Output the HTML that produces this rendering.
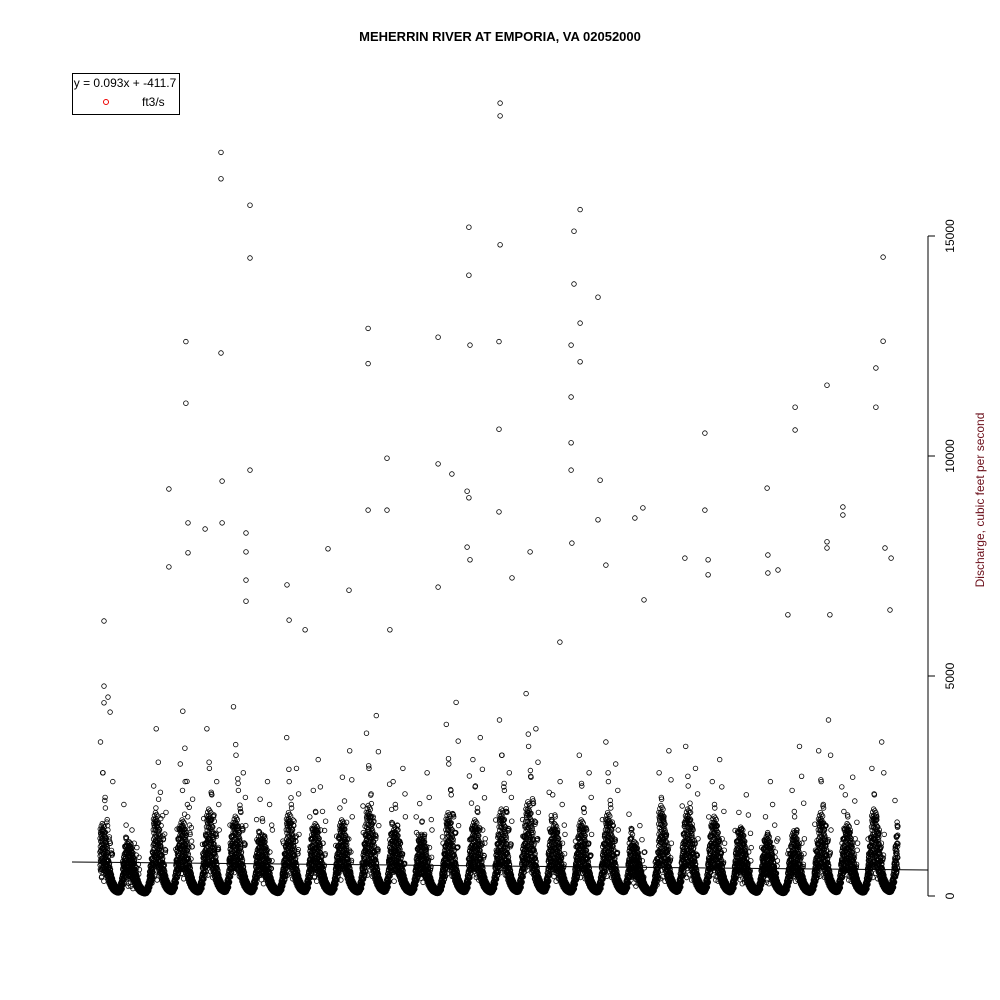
<!DOCTYPE html>
<html><head><meta charset="utf-8"><style>
body{margin:0;background:#fff;}
svg{display:block;font-family:"Liberation Sans",Arial,sans-serif;}
</style></head><body>
<svg id="chart" width="1000" height="1000">
<rect width="1000" height="1000" fill="#fff"/>
<text x="500" y="41" text-anchor="middle" font-size="13" font-weight="bold">MEHERRIN RIVER AT EMPORIA, VA 02052000</text>
<g id="points"></g>
<line x1="72" y1="862" x2="928" y2="870" stroke="#000" stroke-width="1"/>
<g id="yaxis"></g>
<text transform="translate(984,500) rotate(-90)" text-anchor="middle" font-size="12" fill="#6b0f1a">Discharge, cubic feet per second</text>
<g>
<rect x="72.5" y="73.5" width="107" height="41" fill="#fff" stroke="#000"/>
<text x="125" y="87" text-anchor="middle" font-size="12">y = 0.093x + -411.7</text>
<circle cx="106" cy="102" r="2.5" fill="none" stroke="#e00"/>
<text x="142" y="106" font-size="12">ft3/s</text>
</g>
</svg>
<script>
const yTicks=[0,5000,10000,15000];
const monthProfile=[1.0,1.1,1.05,0.85,0.55,0.35,0.22,0.16,0.12,0.14,0.3,0.7];
const dailyWiggle=[1.0,0.7,1.3,0.9,1.5,0.6,1.1,0.8,1.4,1.0,0.55,1.2,0.75,1.35];
const yearScale=[1000,750,1150,1050,1200,1100,850,1150,1000,1050,1250,950,850,1150,1050,1200,1300,1000,1050,1150,750,1250,1200,1100,950,850,900,1150,1000,1200];
const springFlows=[
[3500,2800,2000,1500,1200,2600],[1200,900,1500,800,1100,600],[2500,3800,2200,1600,1300,1900],[3000,4200,2600,1800,1400,2200],[3800,2900,2300,1700,2600,1500],
[4300,3200,2400,1900,2800,1600],[2200,1700,1300,2600,1000,1500],[3600,2600,2000,1700,2900,1400],[2400,1900,3100,1500,1200,1700],[2000,2700,1600,1300,3300,1800],
[3700,2900,2100,1700,4100,1600],[2600,2000,1500,1200,2900,1800],[2100,1700,1400,2800,1100,1500],[3900,3000,2300,1800,4400,1600],[3100,2500,1900,3600,1500,1300],
[4000,3200,2400,1900,2800,1700],[4600,3400,2700,2100,3800,1900],[2300,1800,1500,2600,1200,1400],[3200,2500,1900,1500,2800,1400],[3500,2600,2000,1600,3000,1500],
[1400,1100,900,1600,800,1000],[2800,2200,1700,1400,3300,1200],[3400,2500,1900,1500,2900,1300],[2600,2000,1600,3100,1300,1200],[1900,1500,1200,2300,1000,1100],
[1800,1400,2600,1100,1000,1300],[2400,1800,1500,3400,1200,1300],[3300,2600,2000,1600,4000,1500],[2300,1800,1500,2700,1300,1200],[2900,2300,1800,1500,3500,1400]];
const stormFactors=[1,0.8,0.62,0.48,0.37,0.28];
const stormTimes=[0.02,0.1,0.18,0.26,0.34,0.42,0.84,0.92];
const spikeT=[0.15,0.15,0.15,0.3,0.38,2.59,2.59,3.23,3.23,3.31,3.31,3.95,4.55,4.55,4.55,4.59,4.59,5.64,5.64,5.64,5.49,5.49,5.49,5.49,7.03,7.11,7.71,8.57,9.36,10.08,10.08,10.08,10.79,10.79,10.9,12.71,12.71,12.71,13.23,13.87,13.87,13.91,13.8,13.87,13.8,13.91,15.04,15.04,15.04,15.0,15.0,15.0,15.49,16.17,17.29,17.71,17.71,17.71,17.71,17.74,17.82,17.82,18.05,18.05,18.05,18.72,18.72,18.8,19.02,20.11,20.41,20.45,21.99,22.74,22.74,22.86,22.86,25.08,25.11,25.11,25.49,26.13,26.13,25.86,27.33,27.33,27.33,27.44,27.93,27.93,29.17,29.17,29.44,29.44,29.51,29.74,29.7];
const spikeV=[6250,4770,4390,4520,4180,9250,7480,12600,11200,8480,7800,8340,16900,16300,12340,9430,8480,15700,14500,9680,8250,7820,7180,6700,7070,6270,6050,7890,6950,12900,12100,8770,9950,8770,6050,12700,9820,7020,9590,15200,14110,12520,9200,9050,7930,7640,18020,17730,14800,12600,10610,8730,7230,7820,5770,12520,11340,10300,9680,8020,15110,13910,15600,13020,12140,13610,8550,9450,7520,8590,8820,6730,7680,10520,8770,7640,7300,9270,7750,7340,7410,11110,10590,6390,11610,8050,7910,6390,8840,8660,12000,11110,14520,12610,7910,7680,6500];
const NS='http://www.w3.org/2000/svg';
const xS=t=>100+(t/30)*798;
const yS=v=>896-v*0.044;
const g=document.getElementById('points');
function pt(t,v){
 const c=document.createElementNS(NS,'circle');
 c.setAttribute('cx',xS(t).toFixed(1));c.setAttribute('cy',yS(v).toFixed(1));
 c.setAttribute('r','2.3');c.setAttribute('fill','none');c.setAttribute('stroke','#000');c.setAttribute('stroke-width','0.8');
 
 
 g.appendChild(c);
}
for(let y=0;y<yearScale.length;y++){
 for(let d=0;d<365;d+=1){
  const m=d/30.42, i=Math.floor(m)%12, j=(i+1)%12, f=m-Math.floor(m);
  const prof=monthProfile[i]*(1-f)+monthProfile[j]*f;
  const v=yearScale[y]*prof*dailyWiggle[d%dailyWiggle.length];
  pt(y+d/365,v);
 }
 springFlows[y].forEach((v,k)=>{
  stormFactors.forEach((sf,n)=>{
   const tt=stormTimes[(k+n)%stormTimes.length]+k*0.012;
   pt(y+tt,v*sf);
  });
 });
}
spikeT.forEach((t,i)=>pt(t,spikeV[i]));
const ax=document.getElementById('yaxis');
function el(tag,attrs,txt){const e=document.createElementNS(NS,tag);for(const k in attrs)e.setAttribute(k,attrs[k]);if(txt!==undefined)e.textContent=txt;ax.appendChild(e);return e;}
const axLine=el('line',{x1:928,y1:yS(0),x2:928,y2:yS(15000),stroke:'#000'});


yTicks.forEach(v=>{
 const tk=el('line',{x1:928,y1:yS(v),x2:935,y2:yS(v),stroke:'#000'});
 
 
 const lb=el('text',{transform:`translate(954,${yS(v)}) rotate(-90)`,'text-anchor':'middle','font-size':'12'},String(v));
 
 
});
</script>
</body></html>
